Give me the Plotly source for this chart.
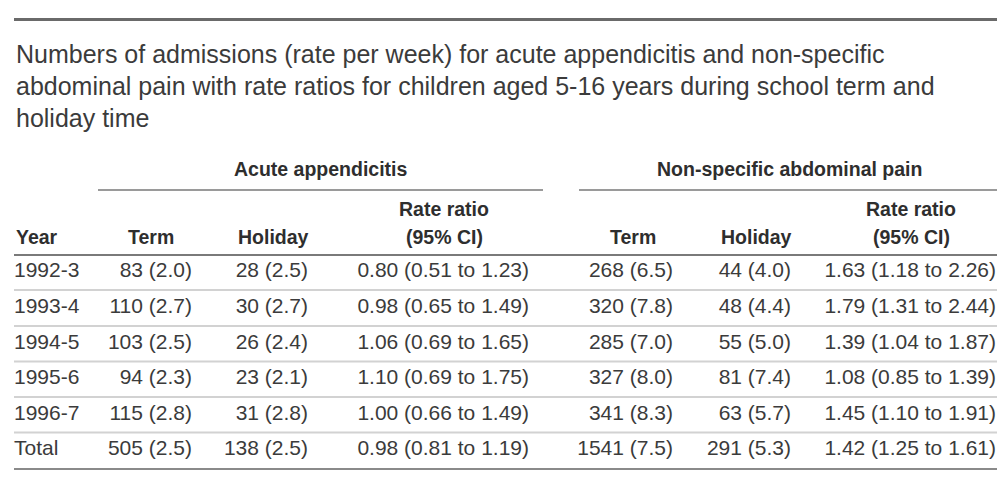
import plotly.graph_objects as go

years = ["1992-3", "1993-4", "1994-5", "1995-6", "1996-7", "Total"]
aa_term = ["83 (2.0)", "110 (2.7)", "103 (2.5)", "94 (2.3)", "115 (2.8)", "505 (2.5)"]
aa_holiday = ["28 (2.5)", "30 (2.7)", "26 (2.4)", "23 (2.1)", "31 (2.8)", "138 (2.5)"]
aa_ratio = ["0.80 (0.51 to 1.23)", "0.98 (0.65 to 1.49)", "1.06 (0.69 to 1.65)",
            "1.10 (0.69 to 1.75)", "1.00 (0.66 to 1.49)", "0.98 (0.81 to 1.19)"]
nsap_term = ["268 (6.5)", "320 (7.8)", "285 (7.0)", "327 (8.0)", "341 (8.3)", "1541 (7.5)"]
nsap_holiday = ["44 (4.0)", "48 (4.4)", "55 (5.0)", "81 (7.4)", "63 (5.7)", "291 (5.3)"]
nsap_ratio = ["1.63 (1.18 to 2.26)", "1.79 (1.31 to 2.44)", "1.39 (1.04 to 1.87)",
              "1.08 (0.85 to 1.39)", "1.45 (1.10 to 1.91)", "1.42 (1.25 to 1.61)"]

title_lines = [
    "Numbers of admissions (rate per week) for acute appendicitis and non-specific",
    "abdominal pain with rate ratios for children aged 5-16 years during school term and",
    "holiday time",
]
group_labels = ["Acute appendicitis", "Non-specific abdominal pain"]
col_headers = ["Term", "Holiday", "Rate ratio<br>(95% CI)", "Term", "Holiday", "Rate ratio<br>(95% CI)"]

FONT = "Liberation Sans, Arial, sans-serif"
TXT = "#3b3b3b"
HDR = "#2e2e2e"
FS = 21
FS_T = 25
FS_H = 19.5

# page is drawn inside the browser's 8px body margin
PAD = 8
W, H = 1005, 484
row_y = [272, 307.5, 343.3, 379, 414.5, 450]
sep_y = [290, 326, 361.5, 397, 432.5]

fig = go.Figure()

cols = [(14, years, "left"), (192, aa_term, "right"), (308, aa_holiday, "right"),
        (529, aa_ratio, "right"), (673, nsap_term, "right"), (791, nsap_holiday, "right"),
        (996, nsap_ratio, "right")]
for x, vals, anchor in cols:
    fig.add_trace(go.Scatter(
        x=[x] * len(vals), y=row_y, mode="text", text=vals,
        textposition="middle right" if anchor == "left" else "middle left",
        textfont=dict(family=FONT, size=FS, color=TXT),
        hoverinfo="skip", showlegend=False, cliponaxis=False,
    ))

ann = []
for i, line in enumerate(title_lines):
    ann.append(dict(x=14, y=[54, 86, 117.5][i], text=line, xanchor="left", yanchor="middle",
                    showarrow=False, font=dict(family=FONT, size=FS_T, color=TXT)))
for lbl, cx in zip(group_labels, [321, 789]):
    ann.append(dict(x=cx, y=168.5, text="<b>%s</b>" % lbl, xanchor="center", yanchor="middle",
                    showarrow=False, font=dict(family=FONT, size=FS_H, color=HDR)))
ann.append(dict(x=14, y=237, text="<b>Year</b>", xanchor="left", yanchor="middle",
                showarrow=False, font=dict(family=FONT, size=FS_H, color=HDR)))
hdr_x = [151, 273, 444, 633, 756, 911]
for hx, h in zip(hdr_x, col_headers):
    parts = h.split("<br>")
    ys = [209, 237] if len(parts) == 2 else [237]
    for p, yy in zip(parts, ys):
        ann.append(dict(x=hx, y=yy, text="<b>%s</b>" % p, xanchor="center", yanchor="middle",
                        showarrow=False, font=dict(family=FONT, size=FS_H, color=HDR)))

shapes = [
    dict(type="line", x0=14, x1=998, y0=19.5, y1=19.5, line=dict(color="#6a6a6a", width=3)),
    dict(type="line", x0=98, x1=543, y0=190, y1=190, line=dict(color="#9a9a9a", width=2)),
    dict(type="line", x0=579, x1=997, y0=190, y1=190, line=dict(color="#9a9a9a", width=2)),
    dict(type="line", x0=14, x1=997, y0=255, y1=255, line=dict(color="#7a7a7a", width=2)),
    dict(type="line", x0=14, x1=997, y0=469, y1=469, line=dict(color="#8a8a8a", width=2)),
]
for sy in sep_y:
    shapes.append(dict(type="line", x0=14, x1=997, y0=sy, y1=sy,
                       line=dict(color="#d2d2d2", width=2)))

fig.update_layout(
    width=W - PAD, height=H - PAD, margin=dict(l=0, r=0, t=0, b=0),
    paper_bgcolor="white", plot_bgcolor="white",
    xaxis=dict(range=[PAD, W], visible=False, fixedrange=True),
    yaxis=dict(range=[H, PAD], visible=False, fixedrange=True),
    annotations=ann, shapes=shapes,
)
fig.write_html("out.html")
